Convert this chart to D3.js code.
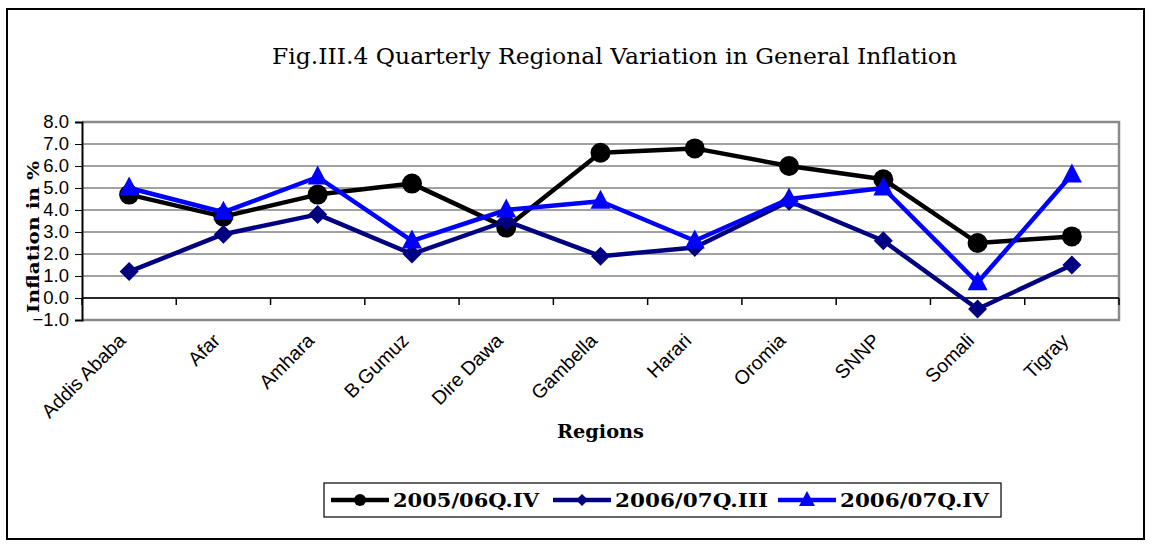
<!DOCTYPE html>
<html>
<head>
<meta charset="utf-8">
<script src="https://cdn.jsdelivr.net/npm/d3@7"></script>
<style>
  body { margin: 0; background: #fff; }
  svg { display: block; }
</style>
</head>
<body>
<div id="chart"></div>
<script>
var regions = ["Addis Ababa", "Afar", "Amhara", "B.Gumuz", "Dire Dawa", "Gambella",
               "Harari", "Oromia", "SNNP", "Somali", "Tigray"];
var q2005IV  = [4.7, 3.7, 4.7, 5.2, 3.2, 6.6, 6.8, 6.0, 5.4, 2.5, 2.8];
var q2006III = [1.2, 2.9, 3.8, 2.0, 3.5, 1.9, 2.3, 4.4, 2.6, -0.5, 1.5];
var q2006IV  = [5.0, 3.9, 5.5, 2.6, 4.0, 4.4, 2.6, 4.5, 5.0, 0.7, 5.6];
var yTicks = [-1, 0, 1, 2, 3, 4, 5, 6, 7, 8];

var series = [
    {name: "2005/06Q.IV",  values: q2005IV,  color: "#000000", marker: "circle"},
    {name: "2006/07Q.III", values: q2006III, color: "#000080", marker: "diamond"},
    {name: "2006/07Q.IV",  values: q2006IV,  color: "#0000ff", marker: "triangle"}
];

var W = 1153, H = 546;
var margin = {top: 122, right: 34, bottom: 226, left: 82},
    width = W - margin.left - margin.right,
    height = H - margin.top - margin.bottom;

var svg = d3.select("#chart").append("svg")
    .attr("width", W)
    .attr("height", H);

// outer frame
svg.append("rect")
    .attr("x", 7).attr("y", 9)
    .attr("width", 1137).attr("height", 530)
    .attr("fill", "none").attr("stroke", "#000").attr("stroke-width", 2);

svg.append("text")
    .attr("x", 272).attr("y", 64)
    .attr("textLength", 685).attr("lengthAdjust", "spacingAndGlyphs")
    .style("font-family", "DejaVu Serif")
    .style("font-size", "22px")
    .text("Fig.III.4 Quarterly Regional Variation in General Inflation");

var g = svg.append("g")
    .attr("transform", "translate(" + margin.left + "," + margin.top + ")");

var x = d3.scaleBand().domain(regions).range([0, width]);
var y = d3.scaleLinear().domain([-1, 8]).range([height, 0]);
var cx = function (i) { return x(regions[i]) + x.bandwidth() / 2; };

// gridlines
g.selectAll(".grid").data(yTicks).enter().append("line")
    .attr("x1", 0).attr("x2", width)
    .attr("y1", function (d) { return y(d); })
    .attr("y2", function (d) { return y(d); })
    .attr("stroke", "#444").attr("stroke-width", 1);

// plot area border (gray)
g.append("path")
    .attr("d", "M0," + y(8) + "H" + width + "V" + height + "H0")
    .attr("fill", "none").attr("stroke", "#8a8a8a").attr("stroke-width", 2.5);

// y axis
var yAxis = g.append("g")
    .call(d3.axisLeft(y).tickValues(yTicks).tickSize(7).tickPadding(6)
        .tickFormat(d3.format(".1f")));
yAxis.select(".domain").attr("stroke", "#000").attr("stroke-width", 2);
yAxis.selectAll("line").attr("stroke", "#000");
yAxis.selectAll("text")
    .style("font-family", "Liberation Sans, Arial")
    .style("font-size", "18.5px")
    .attr("fill", "#000");

// x axis at zero
var xAxis = g.append("g")
    .attr("transform", "translate(0," + y(0) + ")");
xAxis.append("line")
    .attr("x1", 0).attr("x2", width)
    .attr("stroke", "#000").attr("stroke-width", 1.5);
xAxis.selectAll(".tk").data(d3.range(regions.length + 1)).enter().append("line")
    .attr("x1", function (i) { return i * x.step(); })
    .attr("x2", function (i) { return i * x.step(); })
    .attr("y1", 0).attr("y2", 7)
    .attr("stroke", "#000").attr("stroke-width", 1.5);

// category labels below plot
g.selectAll(".xl").data(regions).enter().append("text")
    .attr("transform", function (d, i) {
        return "translate(" + (cx(i) - 7) + "," + (height + 17) + ") rotate(-45)";
    })
    .attr("text-anchor", "end")
    .attr("dy", "0.35em")
    .style("font-family", "Liberation Sans, Arial")
    .style("font-size", "19.5px")
    .text(function (d) { return d; });

svg.append("text")
    .attr("transform", "translate(39,237) rotate(-90)")
    .attr("text-anchor", "middle")
    .attr("textLength", 152).attr("lengthAdjust", "spacingAndGlyphs")
    .style("font-family", "DejaVu Serif")
    .style("font-weight", "bold")
    .style("font-size", "16px")
    .text("Inflation in %");

svg.append("text")
    .attr("x", 557).attr("y", 438)
    .attr("textLength", 87).attr("lengthAdjust", "spacingAndGlyphs")
    .style("font-family", "DejaVu Serif")
    .style("font-weight", "bold")
    .style("font-size", "19px")
    .text("Regions");

function drawMarker(sel, type, size, color) {
    if (type === "circle") {
        sel.append("circle").attr("r", size).attr("fill", color);
    } else if (type === "diamond") {
        sel.append("path")
            .attr("d", "M0," + (-size) + "L" + size + ",0L0," + size + "L" + (-size) + ",0Z")
            .attr("fill", color);
    } else {
        var h = size * 1.9;
        sel.append("path")
            .attr("d", "M0," + (-h * 0.6) + "L" + size + "," + (h * 0.4) + "L" + (-size) + "," + (h * 0.4) + "Z")
            .attr("fill", color);
    }
}

var line = d3.line()
    .x(function (d, i) { return cx(i); })
    .y(function (d) { return y(d); });

series.forEach(function (s) {
    g.append("path")
        .datum(s.values)
        .attr("d", line)
        .attr("fill", "none")
        .attr("stroke", s.color)
        .attr("stroke-width", 4.5)
        .attr("stroke-linejoin", "round");
    g.selectAll(null).data(s.values).enter().append("g")
        .attr("transform", function (d, i) { return "translate(" + cx(i) + "," + y(d) + ")"; })
        .each(function () {
            drawMarker(d3.select(this), s.marker, s.marker === "circle" ? 10 : (s.marker === "diamond" ? 9.5 : 10), s.color);
        });
});

// legend
var legend = svg.append("g");
legend.append("rect")
    .attr("x", 324).attr("y", 483)
    .attr("width", 677).attr("height", 34)
    .attr("fill", "#fff").attr("stroke", "#000").attr("stroke-width", 1.2);

var legendX = [331, 553, 778];
var legendTextLen = [146, 153, 149];
series.forEach(function (s, i) {
    var lg = legend.append("g").attr("transform", "translate(" + legendX[i] + ",500)");
    lg.append("line").attr("x1", 0).attr("x2", 58)
        .attr("stroke", s.color).attr("stroke-width", 4.5);
    var m = lg.append("g").attr("transform", "translate(29,0)");
    drawMarker(m, s.marker, s.marker === "triangle" ? 8 : 6, s.color);
    lg.append("text")
        .attr("x", 62).attr("y", 7)
        .attr("textLength", legendTextLen[i]).attr("lengthAdjust", "spacingAndGlyphs")
        .style("font-family", "DejaVu Serif")
        .style("font-weight", "bold")
        .style("font-size", "19px")
        .text(s.name);
});
</script>
</body>
</html>
